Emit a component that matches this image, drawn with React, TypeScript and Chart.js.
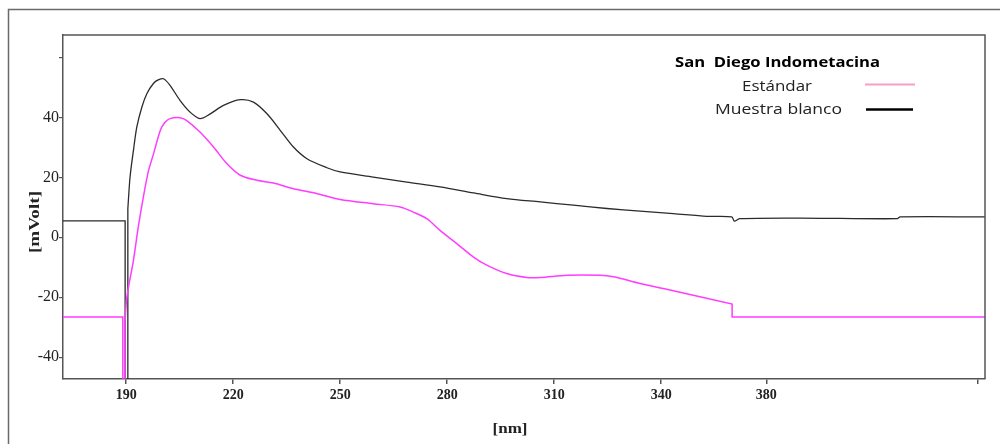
import { useEffect, useRef } from 'react';
import { Chart, registerables } from 'chart.js';

Chart.register(...registerables);

// ---- Data (wavelength in nm, signal in mVolt) ----
const blancoNm = [172.3, 189.72, 189.72, 190.48, 190.48, 191.1, 192.05, 193.0, 194.4, 195.8, 197.7, 199.0, 200.5, 202.3, 205.1, 207.9, 210.7, 213.6, 217.3, 222.0, 225.7, 229.5, 233.2, 236.9, 240.7, 246.3, 250.0, 259.3, 268.7, 278.0, 287.4, 296.7, 306.1, 315.4, 324.8, 334.1, 343.4, 352.8, 359.8, 360.5, 362.1, 379.0, 406.2, 407.0, 430.8];
const blancoMv = [5.5, 5.5, -60, -60, 9.5, 20.1, 29.0, 36.8, 43.4, 47.9, 51.4, 52.5, 52.9, 50.7, 45.7, 41.8, 39.6, 41.2, 44.0, 45.9, 45.1, 41.2, 35.7, 30.1, 26.2, 23.2, 21.8, 20.1, 18.4, 16.8, 14.8, 12.9, 11.8, 10.7, 9.6, 8.7, 7.9, 7.0, 6.8, 5.4, 6.2, 6.4, 6.2, 6.8, 6.8];

const estandarNm = [172.3, 189.07, 189.07, 189.72, 189.72, 190.2, 192.05, 193.4, 195.0, 196.3, 197.7, 199.6, 200.9, 202.3, 205.1, 206.9, 210.7, 214.5, 218.2, 222.0, 226.7, 231.3, 236.9, 243.4, 250.0, 259.3, 266.8, 270.5, 274.3, 278.0, 282.7, 287.4, 291.1, 296.7, 302.3, 306.1, 313.6, 322.9, 326.6, 334.1, 340.6, 359.9, 359.9, 430.8];
const estandarMv = [-26.6, -26.6, -60, -60, -28, -20, -7.7, 3.4, 14.6, 22.3, 27.9, 35.7, 38.4, 39.6, 39.9, 39.0, 35.1, 30.1, 24.6, 20.7, 19.0, 18.1, 16.2, 14.6, 12.6, 11.2, 10.1, 8.4, 6.2, 2.3, -2.1, -6.6, -9.3, -12.1, -13.4, -13.4, -12.7, -12.7, -13.2, -15.4, -17.1, -22.3, -26.6, -26.6];

const xTickValues = [190, 220, 250, 280, 310, 340, 369.5, 428.8];
const xTickLabels = ['190', '220', '250', '280', '310', '340', '380', ''];
const yTickValues = [-40, -20, 0, 20, 40, 60];
const yTickLabels = ['-40', '-20', '0', '20', '40', ''];

const legendTitle = 'San  Diego Indometacina';
const seriesNames = ['Estándar', 'Muestra blanco'];
const xTitle = '[nm]';
const yTitle = '[mVolt]';

function toPoints(xs: number[], ys: number[]) {
  const pts: { x: number; y: number }[] = [];
  for (let i = 0; i < xs.length; i++) {
    const p = { x: xs[i], y: ys[i] };
    pts.push(p);
    const vert = (i > 0 && xs[i - 1] === xs[i]) || (i < xs.length - 1 && xs[i + 1] === xs[i]);
    if (vert) pts.push({ x: xs[i], y: ys[i] });
  }
  return pts;
}

function fittedText(ctx: CanvasRenderingContext2D, text: string, cx: number, cy: number, width: number, font: string, color: string, rot = 0) {
  ctx.save();
  ctx.font = font;
  ctx.fillStyle = color;
  ctx.textAlign = 'center';
  ctx.textBaseline = 'middle';
  const w = ctx.measureText(text).width;
  ctx.translate(cx, cy);
  if (rot) ctx.rotate(rot);
  ctx.scale(width / w, 1);
  ctx.fillText(text, 0, 0);
  ctx.restore();
}

const decor = {
  id: 'decor',
  beforeDraw(chart: any) {
    const ctx = chart.ctx as CanvasRenderingContext2D;
    ctx.save();
    ctx.strokeStyle = '#6a6a6a';
    ctx.lineWidth = 1.5;
    ctx.beginPath();
    ctx.moveTo(8.5, 444);
    ctx.lineTo(8.5, 9.5);
    ctx.lineTo(1000, 9.5);
    ctx.stroke();
    ctx.restore();
  },
  afterDraw(chart: any) {
    const ctx = chart.ctx as CanvasRenderingContext2D;
    const a = chart.chartArea;
    ctx.save();
    ctx.strokeStyle = '#555';
    ctx.lineWidth = 1.5;
    ctx.beginPath();
    ctx.moveTo(a.left, a.top);
    ctx.lineTo(a.right, a.top);
    ctx.lineTo(a.right, a.bottom);
    ctx.stroke();
    ctx.restore();

    // axis titles
    fittedText(ctx, yTitle, 35, 222, 62, 'bold 15px "Liberation Serif"', '#222', -Math.PI / 2);
    fittedText(ctx, xTitle, 510, 429, 35, 'bold 15px "Liberation Serif"', '#222');

    // legend
    fittedText(ctx, legendTitle, 777.5, 63, 205, 'bold 15px "Open Sans"', '#000');
    fittedText(ctx, seriesNames[0], 777, 87, 70, '15px "Open Sans"', '#222');
    fittedText(ctx, seriesNames[1], 778.5, 110, 127, '15px "Open Sans"', '#222');
    ctx.save();
    ctx.lineWidth = 2;
    ctx.strokeStyle = '#f6a0c4';
    ctx.beginPath();
    ctx.moveTo(865, 84.5);
    ctx.lineTo(915, 84.5);
    ctx.stroke();
    ctx.lineWidth = 2.5;
    ctx.strokeStyle = '#000';
    ctx.beginPath();
    ctx.moveTo(866, 109.5);
    ctx.lineTo(913, 109.5);
    ctx.stroke();
    ctx.restore();
  },
};

export default function App() {
  const ref = useRef<HTMLCanvasElement>(null);
  useEffect(() => {
    if (!ref.current) return;
    const chart = new Chart(ref.current, {
      type: 'line',
      data: {
        datasets: [
          {
            label: seriesNames[0],
            data: toPoints(estandarNm, estandarMv),
            borderColor: '#ff3cff',
            borderWidth: 1.5,
            pointRadius: 0,
            tension: 0.3,
            fill: false,
          },
          {
            label: seriesNames[1],
            data: toPoints(blancoNm, blancoMv),
            borderColor: '#2b2b2b',
            borderWidth: 1.3,
            pointRadius: 0,
            tension: 0.3,
            fill: false,
          },
        ],
      },
      options: {
        animation: false,
        responsive: true,
        maintainAspectRatio: false,
        events: [],
        layout: { padding: { left: 0, top: 35, right: 15, bottom: 0 } },
        plugins: { legend: { display: false }, tooltip: { enabled: false }, title: { display: false } },
        scales: {
          x: {
            type: 'linear',
            min: 172.3,
            max: 430.8,
            afterBuildTicks: (scale: any) => {
              scale.ticks = xTickValues.map((v) => ({ value: v }));
            },
            afterFit: (scale: any) => {
              scale.height = 65;
            },
            ticks: {
              autoSkip: false,
              maxRotation: 0,
              padding: 3,
              color: '#222',
              font: { family: '"Liberation Serif"', size: 14, weight: 'bold' },
              callback: (_v: any, i: number) => xTickLabels[i],
            },
            grid: { drawOnChartArea: false, drawTicks: true, tickLength: 5, color: '#555', lineWidth: 1.5 },
            border: { display: true, color: '#555', width: 1.5 },
          },
          y: {
            type: 'linear',
            min: -47.3,
            max: 67.5,
            afterBuildTicks: (scale: any) => {
              scale.ticks = yTickValues.map((v) => ({ value: v }));
            },
            afterFit: (scale: any) => {
              scale.width = 63;
            },
            ticks: {
              autoSkip: false,
              padding: 0,
              color: '#222',
              font: { family: '"Liberation Serif"', size: 16 },
              callback: (_v: any, i: number) => yTickLabels[i],
            },
            grid: { drawOnChartArea: false, drawTicks: true, tickLength: 4, color: '#555', lineWidth: 1.2 },
            border: { display: true, color: '#555', width: 1.5 },
          },
        },
      },
      plugins: [decor],
    });
    return () => chart.destroy();
  }, []);
  return (
    <div style={{ position: 'absolute', left: 0, top: 0, width: 1000, height: 444, background: '#fff' }}>
      <canvas ref={ref} />
    </div>
  );
}
